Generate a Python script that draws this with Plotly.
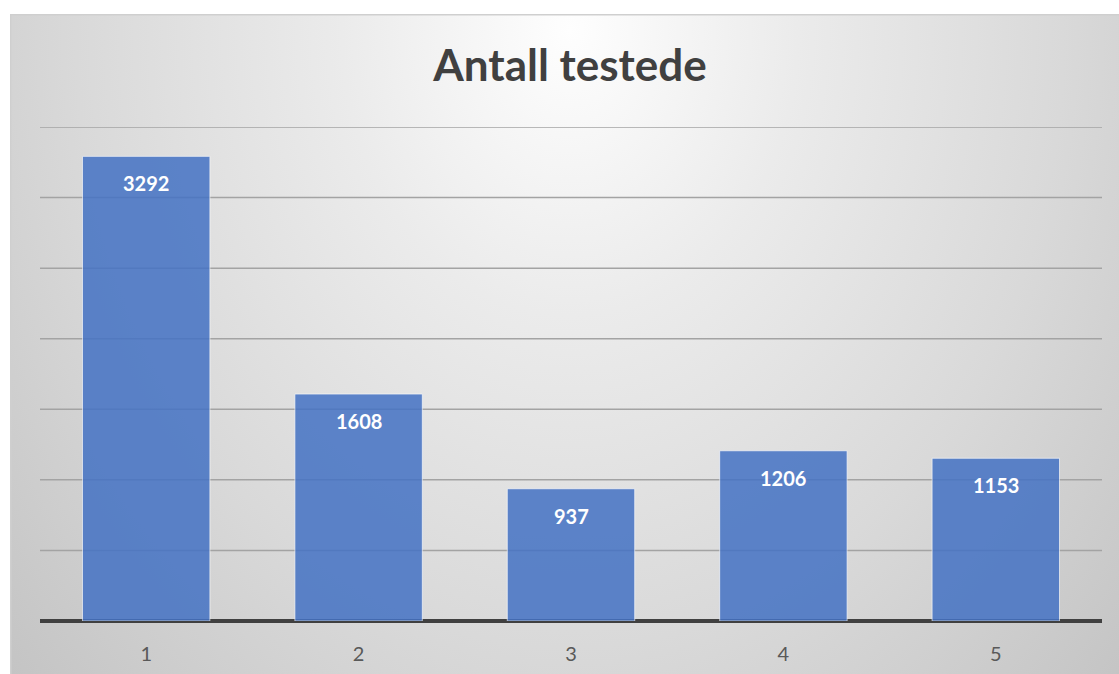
import base64
import plotly.graph_objects as go

categories = ["1", "2", "3", "4", "5"]
positions = [1, 2, 3, 4, 5]
values = [3292, 1608, 937, 1206, 1153]
grid_values = [500, 1000, 1500, 2000, 2500, 3000, 3500]
title_text = "Antall testede"

W, H = 1119, 674
ml, mr, mt, mb = 40, 17, 127, 53
pw, ph = W - ml - mr, H - mt - mb

# Excel-like radial gradient background for the chart frame
fx0, fy0 = 10, 14
fw, fh = W - fx0, H - fy0
cx, cy = 560, 16
svg = f'''<svg xmlns="http://www.w3.org/2000/svg" width="{fw}" height="{fh}" viewBox="0 0 {fw} {fh}" preserveAspectRatio="none">
<defs><radialGradient id="g" gradientUnits="userSpaceOnUse" cx="{cx}" cy="{cy}" r="760" gradientTransform="translate({cx} {cy}) scale(1 1.25) translate({-cx} {-cy})">
<stop offset="0" stop-color="#fefefe"/><stop offset="0.3" stop-color="#ebebeb"/><stop offset="0.65" stop-color="#d9d9d9"/><stop offset="1" stop-color="#c4c4c4"/></radialGradient></defs>
<rect x="0" y="0" width="{fw}" height="{fh}" fill="url(#g)"/>
<rect x="0.75" y="0.75" width="{fw+5}" height="{fh+5}" fill="none" stroke="#cfcfcf" stroke-width="1.5"/>
</svg>'''
src = "data:image/svg+xml;base64," + base64.b64encode(svg.encode()).decode()

fig = go.Figure()
fig.add_trace(go.Bar(
    x=positions, y=values, width=0.6,
    marker=dict(color="#4472C4", opacity=0.85, line=dict(color="rgba(255,255,255,0.7)", width=1)),
    hoverinfo="skip",
))

for p, v in zip(positions, values):
    fig.add_annotation(x=p, y=v, text=f"<b>{v}</b>", showarrow=False, yanchor="middle",
                       yshift=-27, font=dict(family="Lato", size=20, color="white"))

# gridlines drawn as shapes so the top one at the plot edge is kept
for g in grid_values:
    fig.add_shape(type="line", xref="paper", x0=0, x1=1, yref="y", y0=g, y1=g,
                  line=dict(color="#a3a3a3", width=1.5), layer="below")

fig.add_layout_image(dict(
    source=src, xref="paper", yref="paper",
    x=(fx0 - ml) / pw, y=(H - mb - fy0) / ph,
    sizex=fw / pw, sizey=fh / ph, sizing="stretch",
    xanchor="left", yanchor="top", layer="below",
))

fig.update_layout(
    width=W, height=H,
    margin=dict(l=ml, r=mr, t=mt, b=mb, pad=0, autoexpand=False),
    paper_bgcolor="white", plot_bgcolor="rgba(0,0,0,0)",
    showlegend=False,
    title=dict(text=f"<b>{title_text}</b>", x=570 / W, xanchor="center",
               y=1 - 66 / H, yanchor="middle",
               font=dict(family="Lato", size=44, color="#404040")),
    xaxis=dict(range=[0.5, 5.5], tickvals=positions, ticktext=categories, showgrid=False,
               showline=False, zeroline=False, ticks="", ticklabelstandoff=19, automargin=False,
               tickfont=dict(family="Lato", size=20, color="#595959")),
    yaxis=dict(range=[0, 3500], showticklabels=False, showgrid=False, automargin=False,
               zeroline=True, zerolinecolor="#404040",
               zerolinewidth=3.5, showline=False, ticks=""),
)

fig.write_html("out.html", config={"displayModeBar": False},
               post_script="document.body.style.margin='0px';")
